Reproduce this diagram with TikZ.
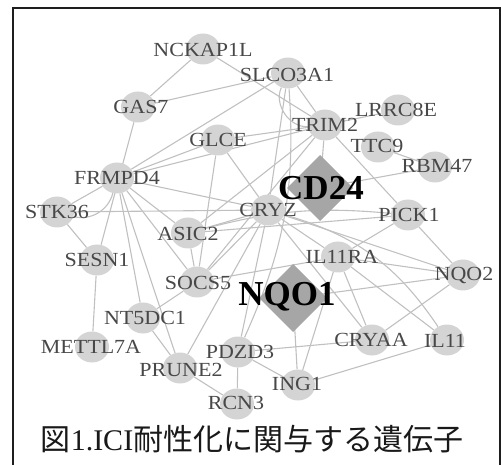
\documentclass[tikz,border=0pt]{standalone}
\usepackage{fontspec}
\usepackage{graphicx}
\setmainfont{Liberation Serif}
\newfontfamily\cjk{Noto Sans CJK JP}
\usetikzlibrary{shapes.geometric}
\pgfdeclarelayer{bg}
\pgfsetlayers{bg,main}
\definecolor{nodegray}{RGB}{212,212,212}
\definecolor{diagray}{RGB}{166,166,166}
\definecolor{edgegray}{RGB}{192,192,192}
\definecolor{txtgray}{RGB}{72,72,72}
\definecolor{framecol}{RGB}{30,30,30}
\newcommand{\glab}[1]{\scalebox{1.1}[1]{#1}}
\begin{document}
\begin{tikzpicture}[x=1pt,y=-1pt,
  gene/.style={ellipse, fill=nodegray, minimum width=34pt, minimum height=31pt, inner sep=0pt},
  diafill/.style={fill=diagray},
  lbl/.style={text=txtgray, font=\fontsize{20}{20}\selectfont, inner sep=0pt},
  biglbl/.style={text=black, font=\bfseries\fontsize{35}{35}\selectfont, inner sep=0pt},
  caption/.style={text=black!90, font=\fontsize{30}{30}\selectfont, inner sep=0pt},
  edge/.style={draw=edgegray, line width=1.1pt},
  frame/.style={draw=framecol, line width=1.6pt}]
\useasboundingbox (0,0) rectangle (501,465);
\draw[frame] (13,466) -- (13,8) -- (500,8) -- (500,466);

% gene nodes
\node[gene] (NCKAP1L) at (203,49) {};
\node[gene] (GAS7) at (138,107) {};
\node[gene] (SLCO3A1) at (288,73) {};
\node[gene] (TRIM2) at (325,125) {};
\node[gene] (LRRC8E) at (398,110) {};
\node[gene] (TTC9) at (378,147) {};
\node[gene] (RBM47) at (435,167) {};
\node[gene] (GLCE) at (218,140) {};
\node[gene] (FRMPD4) at (117,178) {};
\node[gene] (STK36) at (57,212) {};
\node[gene] (CRYZ) at (268,210) {};
\node[gene] (PICK1) at (408,215) {};
\node[gene] (ASIC2) at (188,233) {};
\node[gene] (SESN1) at (97,260) {};
\node[gene] (IL11RA) at (338,257) {};
\node[gene] (NQO2) at (463,275) {};
\node[gene] (SOCS5) at (197,282) {};
\node[gene] (NT5DC1) at (143,318) {};
\node[gene] (METTL7A) at (92,347) {};
\node[gene] (CRYAA) at (372,340) {};
\node[gene] (IL11) at (447,340) {};
\node[gene] (PDZD3) at (238,352) {};
\node[gene] (PRUNE2) at (180,368) {};
\node[gene] (ING1) at (298,385) {};
\node[gene] (RCN3) at (237,404) {};

% diamond hubs
\coordinate (CD24) at (320,188);
\coordinate (NQO1) at (293,298);
\fill[diafill] (320,155) -- (353,188) -- (320,221) -- (287,188) -- cycle;
\fill[diafill] (293,264) -- (327,298) -- (293,332) -- (259,298) -- cycle;

% edges
\begin{pgfonlayer}{bg}
\draw[edge] (NCKAP1L) -- (GAS7);
\draw[edge] (NCKAP1L) -- (TRIM2);
\draw[edge] (GAS7) -- (SLCO3A1);
\draw[edge] (GAS7) -- (SESN1);
\draw[edge] (SLCO3A1) -- (FRMPD4);
\draw[edge] (SLCO3A1) -- (TRIM2);
\draw[edge] (SLCO3A1) to[bend right=60] (TRIM2);
\draw[edge] (SLCO3A1) -- (CRYZ);
\draw[edge] (SLCO3A1) to[bend left=14] (PDZD3);
\draw[edge] (FRMPD4) -- (TRIM2);
\draw[edge] (FRMPD4) -- (GLCE);
\draw[edge] (FRMPD4) -- (CRYZ);
\draw[edge] (FRMPD4) -- (ASIC2);
\draw[edge] (FRMPD4) -- (SOCS5);
\draw[edge] (FRMPD4) -- (NT5DC1);
\draw[edge] (FRMPD4) -- (PRUNE2);
\draw[edge] (STK36) -- (FRMPD4);
\draw[edge] (STK36) to[bend right=45] (FRMPD4);
\draw[edge] (STK36) -- (SESN1);
\draw[edge] (STK36) -- (CRYZ);
\draw[edge] (SESN1) -- (METTL7A);
\draw[edge] (GLCE) -- (TRIM2);
\draw[edge] (GLCE) -- (CRYZ);
\draw[edge] (GLCE) -- (SOCS5);
\draw[edge] (TRIM2) -- (ASIC2);
\draw[edge] (TRIM2) -- (SOCS5);
\draw[edge] (TRIM2) -- (CD24);
\draw[edge] (TRIM2) -- (PICK1);
\draw[edge] (TRIM2) -- (LRRC8E);
\draw[edge] (TTC9) -- (RBM47);
\draw[edge] (CD24) -- (RBM47);
\draw[edge] (ASIC2) -- (SOCS5);
\draw[edge] (ASIC2) -- (CRYZ);
\draw[edge] (ASIC2) -- (PICK1);
\draw[edge] (ASIC2) to[bend left=10] (PICK1);
\draw[edge] (SOCS5) -- (CRYZ);
\draw[edge] (SOCS5) -- (IL11RA);
\draw[edge] (SOCS5) -- (NT5DC1);
\draw[edge] (CRYZ) -- (IL11RA);
\draw[edge] (CRYZ) -- (NQO2);
\draw[edge] (CRYZ) -- (CRYAA);
\draw[edge] (CRYZ) -- (PDZD3);
\draw[edge] (CRYZ) -- (PRUNE2);
\draw[edge] (CRYZ) to[bend left=20] (IL11);
\draw[edge] (PICK1) -- (NQO2);
\draw[edge] (PICK1) -- (IL11RA);
\draw[edge] (IL11RA) -- (NQO2);
\draw[edge] (IL11RA) -- (IL11);
\draw[edge] (IL11RA) -- (ING1);
\draw[edge] (IL11RA) -- (CRYAA);
\draw[edge] (NQO1) -- (NQO2);
\draw[edge] (NQO1) -- (ING1);
\draw[edge] (CRYAA) -- (NQO2);
\draw[edge] (PDZD3) -- (CRYAA);
\draw[edge] (PDZD3) -- (ING1);
\draw[edge] (PDZD3) -- (RCN3);
\draw[edge] (PRUNE2) -- (RCN3);
\draw[edge] (NT5DC1) -- (PRUNE2);
\draw[edge] (ING1) -- (IL11);
\end{pgfonlayer}

% labels
\node[lbl] (NCKAP1L-t) at (203,50) {\glab{NCKAP1L}};
\node[lbl] (GAS7-t) at (141,107) {\glab{GAS7}};
\node[lbl] (SLCO3A1-t) at (287,75) {\glab{SLCO3A1}};
\node[lbl] (TRIM2-t) at (325,125) {\glab{TRIM2}};
\node[lbl] (LRRC8E-t) at (396,110) {\glab{LRRC8E}};
\node[lbl] (TTC9-t) at (377,146) {\glab{TTC9}};
\node[lbl] (RBM47-t) at (437,166) {\glab{RBM47}};
\node[lbl] (GLCE-t) at (218,140) {\glab{GLCE}};
\node[lbl] (FRMPD4-t) at (117,178) {\glab{FRMPD4}};
\node[lbl] (STK36-t) at (57,212) {\glab{STK36}};
\node[lbl] (CRYZ-t) at (268,210) {\glab{CRYZ}};
\node[lbl] (PICK1-t) at (409,215) {\glab{PICK1}};
\node[lbl] (ASIC2-t) at (188,234) {\glab{ASIC2}};
\node[lbl] (SESN1-t) at (97,260) {\glab{SESN1}};
\node[lbl] (IL11RA-t) at (342,257) {\glab{IL11RA}};
\node[lbl] (NQO2-t) at (464,275) {\glab{NQO2}};
\node[lbl] (SOCS5-t) at (198,283) {\glab{SOCS5}};
\node[lbl] (NT5DC1-t) at (145,318) {\glab{NT5DC1}};
\node[lbl] (METTL7A-t) at (91,347) {\glab{METTL7A}};
\node[lbl] (CRYAA-t) at (371,340) {\glab{CRYAA}};
\node[lbl] (IL11-t) at (445,341) {\glab{IL11}};
\node[lbl] (PDZD3-t) at (240,352) {\glab{PDZD3}};
\node[lbl] (PRUNE2-t) at (181,370) {\glab{PRUNE2}};
\node[lbl] (ING1-t) at (297,384) {\glab{ING1}};
\node[lbl] (RCN3-t) at (236,403) {\glab{RCN3}};
\node[biglbl] (CD24-t) at (321,188) {CD24};
\node[biglbl] (NQO1-t) at (287,297) {NQO1};

\node[caption] (cap) at (252,439) {{\cjk 図}1.ICI{\cjk 耐性化に関与する遺伝子}};
\end{tikzpicture}
\end{document}
